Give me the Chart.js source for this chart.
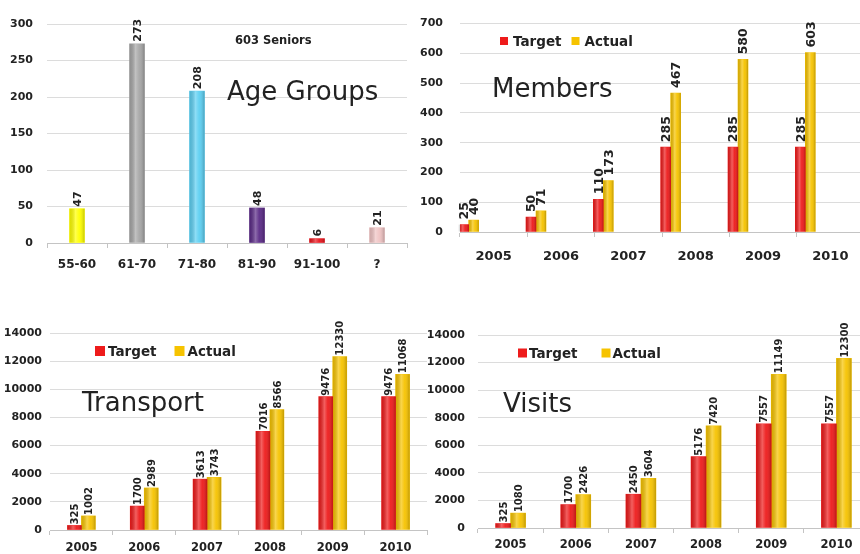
<!DOCTYPE html>
<html>
<head>
<meta charset="utf-8">
<script src="https://cdn.jsdelivr.net/npm/chart.js@4.4.1/dist/chart.umd.min.js"></script>
<style>
html, body { margin: 0; padding: 0; background: #fff; }
body { width: 860px; height: 554px; position: relative; overflow: hidden; }
canvas { position: absolute; }
.ttl { position: absolute; font-family: "DejaVu Sans"; font-size: 26px; line-height: 26px; color: #222; white-space: nowrap; }
.sub { position: absolute; font-family: "DejaVu Sans"; font-weight: bold; font-size: 11.5px; line-height: 12px; color: #222; white-space: nowrap; }
</style>
</head>
<body>
<canvas id="age" width="430" height="280" style="left:0;top:0"></canvas>
<canvas id="members" width="456" height="280" style="left:410px;top:0"></canvas>
<canvas id="transport" width="430" height="274" style="left:0;top:280px"></canvas>
<canvas id="visits" width="445" height="274" style="left:425px;top:280px"></canvas>

<div class="sub" style="left:235px;top:34px">603 Seniors</div>
<div class="ttl" style="left:227px;top:78px">Age Groups</div>
<div class="ttl" style="left:492px;top:75px">Members</div>
<div class="ttl" style="left:82px;top:389px">Transport</div>
<div class="ttl" style="left:503px;top:390px">Visits</div>

<script>
// data
const ageGroups = ['55-60', '61-70', '71-80', '81-90', '91-100', '?'];
const ageCounts = [47, 273, 208, 48, 6, 21];
const ageTicks = [0, 50, 100, 150, 200, 250, 300];

const years = ['2005', '2006', '2007', '2008', '2009', '2010'];

const membersTarget = [25, 50, 110, 285, 285, 285];
const membersActual = [40, 71, 173, 467, 580, 603];
const membersTicks = [0, 100, 200, 300, 400, 500, 600, 700];

const transportTarget = [325, 1700, 3613, 7016, 9476, 9476];
const transportActual = [1002, 2989, 3743, 8566, 12330, 11068];

const visitsTarget = [325, 1700, 2450, 5176, 7557, 7557];
const visitsActual = [1080, 2426, 3604, 7420, 11149, 12300];

const bigTicks = [0, 2000, 4000, 6000, 8000, 10000, 12000, 14000];

// styles
const RED = '#ee1b1b';
const GOLD = '#f6c300';
const ageColors = ['#ffff00', '#a6a6a6', '#5ccff2', '#5a2a86', '#e8141c', '#efc3c3'];
const FONT = 'DejaVu Sans';

Chart.defaults.animation = false;
Chart.defaults.font.family = FONT;
Chart.defaults.color = '#222';

// numbers written upward above each bar
const valueLabels = {
  id: 'valueLabels',
  afterDatasetsDraw(chart, args, opts) {
    const ctx = chart.ctx;
    ctx.save();
    ctx.font = 'bold ' + opts.size + 'px ' + FONT;
    ctx.fillStyle = '#222';
    ctx.textAlign = 'left';
    ctx.textBaseline = 'middle';
    chart.data.datasets.forEach(function(ds, i) {
      const meta = chart.getDatasetMeta(i);
      meta.data.forEach(function(bar, j) {
        const v = ds.data[j];
        if (v == null) return;
        ctx.save();
        ctx.translate(bar.x + 1, bar.y - opts.gap);
        ctx.rotate(-Math.PI / 2);
        ctx.fillText(String(v), 0, 0);
        ctx.restore();
      });
    });
    ctx.restore();
  }
};

// cylinder-ish shading over the bars
const shine = {
  id: 'shine',
  afterDatasetDraw(chart, args) {
    const ctx = chart.ctx;
    args.meta.data.forEach(function(bar) {
      const p = bar.getProps(['x', 'y', 'base', 'width'], true);
      const l = p.x - p.width / 2;
      const g = ctx.createLinearGradient(l, 0, l + p.width, 0);
      g.addColorStop(0, 'rgba(0,0,0,0.12)');
      g.addColorStop(0.4, 'rgba(255,255,255,0.30)');
      g.addColorStop(0.65, 'rgba(255,255,255,0.05)');
      g.addColorStop(1, 'rgba(0,0,0,0.22)');
      ctx.save();
      ctx.fillStyle = g;
      ctx.fillRect(l, p.y, p.width, p.base - p.y);
      ctx.restore();
    });
  }
};

// small square legend placed inside the plot
const keyBoxes = {
  id: 'keyBoxes',
  afterDraw(chart, args, opts) {
    const ctx = chart.ctx;
    let x = opts.x;
    ctx.save();
    ctx.font = 'bold ' + opts.size + 'px ' + FONT;
    ctx.textBaseline = 'middle';
    chart.data.datasets.forEach(function(ds) {
      if (!ds.label) return;
      ctx.fillStyle = ds.backgroundColor;
      ctx.fillRect(x, opts.y - opts.box / 2, opts.box, opts.box);
      x += opts.box + opts.gap;
      ctx.fillStyle = '#222';
      ctx.fillText(ds.label, x, opts.y + 1);
      x += ctx.measureText(ds.label).width + opts.spacing;
    });
    ctx.restore();
  }
};

function yAxis(list, width, pad) {
  return {
    min: list[0],
    max: list[list.length - 1],
    afterBuildTicks: function(s) { s.ticks = list.map(function(v) { return { value: v }; }); },
    afterFit: function(s) { s.width = width; },
    border: { display: false },
    grid: { color: '#dcdcdc', drawTicks: false },
    ticks: {
      padding: pad, color: '#222', font: { size: 11, weight: 'bold' },
      callback: function(v) { return String(v); }
    }
  };
}

function xAxis(height, pad, size) {
  return {
    afterFit: function(s) { s.height = height; },
    border: { display: true, color: '#c4c4c4' },
    grid: { drawOnChartArea: false, color: '#c4c4c4', tickLength: 5, offset: true },
    ticks: { padding: pad, color: '#222', autoSkip: false, maxRotation: 0, font: { size: size, weight: 'bold' } }
  };
}

// Age groups
new Chart(document.getElementById('age'), {
  type: 'bar',
  data: {
    labels: ageGroups,
    datasets: [{ data: ageCounts, backgroundColor: ageColors, barThickness: 15 }]
  },
  options: {
    responsive: false,
    devicePixelRatio: 1,
    layout: { padding: { left: 0, right: 23, top: 24, bottom: 0 } },
    plugins: { legend: { display: false }, tooltip: { enabled: false }, valueLabels: { size: 11, gap: 2 } },
    scales: { x: xAxis(37, 10, 12), y: yAxis(ageTicks, 47, 14) }
  },
  plugins: [shine, valueLabels]
});

// Members: extra empty groups keep the pair at the left of each year
const spacers = [1, 2, 3, 4, 5].map(function() { return { label: '', data: [], barThickness: 10 }; });
new Chart(document.getElementById('members'), {
  type: 'bar',
  data: {
    labels: years,
    datasets: [
      { label: 'Target', data: membersTarget, backgroundColor: RED, barThickness: 10 },
      { label: 'Actual', data: membersActual, backgroundColor: GOLD, barThickness: 10 }
    ].concat(spacers)
  },
  options: {
    responsive: false,
    devicePixelRatio: 1,
    layout: { padding: { left: 0, right: 2, top: 22, bottom: 0 } },
    plugins: {
      legend: { display: false }, tooltip: { enabled: false },
      valueLabels: { size: 12.5, gap: 5 },
      keyBoxes: { x: 90, y: 41, box: 8, gap: 5, spacing: 10, size: 13.5 }
    },
    scales: { x: xAxis(48, 12, 13), y: yAxis(membersTicks, 50, 17) }
  },
  plugins: [shine, valueLabels, keyBoxes]
});

// Transport
new Chart(document.getElementById('transport'), {
  type: 'bar',
  data: {
    labels: years,
    datasets: [
      { label: 'Target', data: transportTarget, backgroundColor: RED, barThickness: 14 },
      { label: 'Actual', data: transportActual, backgroundColor: GOLD, barThickness: 14 }
    ]
  },
  options: {
    responsive: false,
    devicePixelRatio: 1,
    layout: { padding: { left: 0, right: 3, top: 53, bottom: 0 } },
    plugins: {
      legend: { display: false }, tooltip: { enabled: false },
      valueLabels: { size: 10, gap: 1 },
      keyBoxes: { x: 95, y: 71, box: 10, gap: 3, spacing: 18, size: 13.5 }
    },
    scales: { x: xAxis(24, 6, 11.5), y: yAxis(bigTicks, 50, 8) }
  },
  plugins: [shine, valueLabels, keyBoxes]
});

// Visits
new Chart(document.getElementById('visits'), {
  type: 'bar',
  data: {
    labels: years,
    datasets: [
      { label: 'Target', data: visitsTarget, backgroundColor: RED, barThickness: 15 },
      { label: 'Actual', data: visitsActual, backgroundColor: GOLD, barThickness: 15 }
    ]
  },
  options: {
    responsive: false,
    devicePixelRatio: 1,
    layout: { padding: { left: 0, right: 1, top: 55, bottom: 0 } },
    plugins: {
      legend: { display: false }, tooltip: { enabled: false },
      valueLabels: { size: 10, gap: 1 },
      keyBoxes: { x: 93, y: 73, box: 9, gap: 2, spacing: 24, size: 13.5 }
    },
    scales: { x: xAxis(26, 5, 11.5), y: yAxis(bigTicks, 53, 13) }
  },
  plugins: [shine, valueLabels, keyBoxes]
});
</script>
</body>
</html>
